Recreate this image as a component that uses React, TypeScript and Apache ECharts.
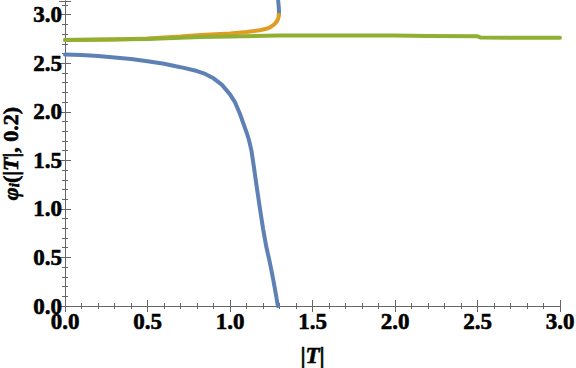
import React, { useEffect, useRef } from "react";
import * as echarts from "echarts";

const blueLower: [number, number][] = [
  [0, 2.59], [0.1, 2.585], [0.2, 2.575], [0.3, 2.56], [0.4, 2.545], [0.5, 2.52],
  [0.6, 2.495], [0.7, 2.46], [0.8, 2.42], [0.85, 2.39], [0.9, 2.345], [0.95, 2.28],
  [1.0, 2.18], [1.03, 2.1], [1.06, 1.98], [1.085, 1.86], [1.1, 1.79], [1.115, 1.71],
  [1.13, 1.6], [1.145, 1.43], [1.16, 1.25], [1.18, 1.02], [1.2, 0.8], [1.22, 0.61],
  [1.24, 0.46], [1.26, 0.29], [1.275, 0.15], [1.29, 0],
];
const blueUpper: [number, number][] = [
  [1.296, 3.0], [1.297, 3.04], [1.295, 3.09], [1.292, Math.PI],
];
const orange: [number, number][] = [
  [0, 2.74], [0.3, 2.745], [0.5, 2.755], [0.7, 2.775], [0.82, 2.792], [1.0, 2.808],
  [1.1, 2.822], [1.18, 2.84], [1.22, 2.855], [1.242, 2.87], [1.26, 2.89], [1.275, 2.912],
  [1.285, 2.935], [1.292, 2.96], [1.295, 2.98], [1.296, 3.0],
];
const green: [number, number][] = [
  [0, 2.74], [0.5, 2.75], [0.82, 2.77], [1.0, 2.775], [1.3, 2.785], [1.7, 2.787],
  [2.0, 2.785], [2.2, 2.78], [2.5, 2.778], [2.52, 2.765], [3.0, 2.762],
];

const FONT = "'Liberation Serif', serif";
const FRAME = "#666666";

export default function App() {
  const ref = useRef<HTMLDivElement>(null);
  useEffect(() => {
    if (!ref.current) return;
    const chart = echarts.init(ref.current, undefined, { renderer: "svg" });
    const axisCommon = {
      type: "value" as const,
      axisLine: { show: true, lineStyle: { color: FRAME, width: 1 } },
      axisTick: { show: true, inside: true, length: 6, lineStyle: { color: FRAME } },
      minorTick: { show: true, splitNumber: 5, length: 3, lineStyle: { color: FRAME } },
      splitLine: { show: false },
    };
    const labelStyle = {
      fontFamily: FONT,
      fontWeight: "bold" as const,
      fontSize: 23,
      color: "#000",
      textBorderColor: "#000",
      textBorderWidth: 0.6,
    };
    const lineSeries = (data: [number, number][], color: string) => ({
      type: "line",
      data,
      showSymbol: false,
      lineStyle: { color, width: 4, join: "round", cap: "round" },
      itemStyle: { color },
    });
    chart.setOption({
      animation: false,
      backgroundColor: "#fff",
      textStyle: { fontFamily: FONT },
      grid: { left: 65, right: 16, top: 1, bottom: 62, outerBoundsMode: "none", containLabel: false },
      xAxis: [
        {
          ...axisCommon,
          min: 0, max: 3, interval: 0.5,
          position: "bottom",
          axisLabel: { ...labelStyle, margin: 4, formatter: (v: number) => v.toFixed(1) },
          name: "|{i|T}|",
          nameLocation: "middle",
          nameGap: 38,
          nameTextStyle: {
            ...labelStyle,
            rich: { i: { ...labelStyle, fontStyle: "italic" } },
          },
        },
        {
          ...axisCommon,
          min: 0, max: 3, interval: 0.5,
          position: "top",
          axisLabel: { show: false },
        },
      ],
      yAxis: [
        {
          ...axisCommon,
          min: 0, max: Math.PI, interval: 0.5,
          position: "left",
          axisLabel: {
            ...labelStyle, margin: 3, showMaxLabel: false,
            formatter: (v: number) => v.toFixed(1),
          },
          name: "{i|φ}{s|i}(|{i|T}|, 0.2)",
          nameLocation: "middle",
          nameGap: 38,
          nameRotate: 90,
          nameTextStyle: {
            ...labelStyle,
            fontSize: 22,
            lineHeight: 22,
            rich: {
              i: { ...labelStyle, fontSize: 22, lineHeight: 22, fontStyle: "italic" },
              s: { ...labelStyle, fontStyle: "italic", fontSize: 15, lineHeight: 22, verticalAlign: "bottom" },
            },
          },
        },
        {
          ...axisCommon,
          min: 0, max: Math.PI, interval: 0.5,
          position: "right",
          axisLabel: { show: false },
        },
      ],
      series: [
        lineSeries(blueLower, "#5E81B5"),
        lineSeries(blueUpper, "#5E81B5"),
        lineSeries(orange, "#E19C24"),
        lineSeries(green, "#8FB032"),
      ],
    });
    return () => chart.dispose();
  }, []);
  return (
    <div
      ref={ref}
      style={{ position: "absolute", left: 0, top: 0, width: 576, height: 368 }}
    />
  );
}
